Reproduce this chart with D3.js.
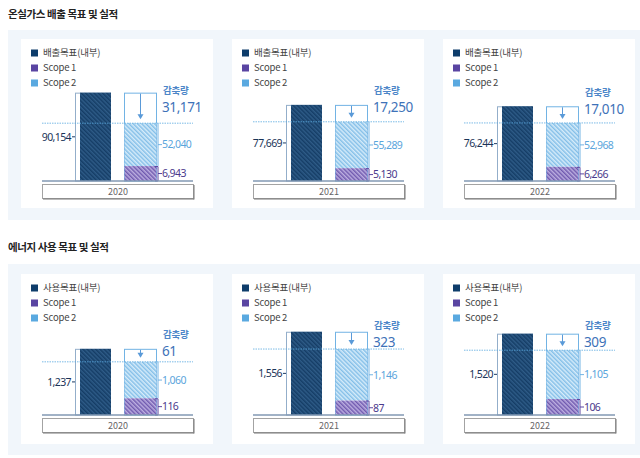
<!DOCTYPE html>
<html><head><meta charset="utf-8">
<script src="https://cdn.jsdelivr.net/npm/d3@7"></script>
<style>
html,body{margin:0;padding:0;background:#fff;}
svg{display:block;font-family:"Noto Sans CJK KR","Noto Sans",sans-serif;}
</style></head>
<body>
<svg id="chart" width="640" height="458"></svg>
<script>
// ---- data ----
const years = ["2020", "2021", "2022"];
const ghgTitle = "온실가스 배출 목표 및 실적";
const ghgTargetLabel = "배출목표(내부)";
const ghgTarget = [90154, 77669, 76244];
const ghgScope2 = [52040, 55289, 52968];
const ghgScope1 = [6943, 5130, 6266];
const ghgReduction = [31171, 17250, 17010];

const energyTitle = "에너지 사용 목표 및 실적";
const energyTargetLabel = "사용목표(내부)";
const energyTarget = [1237, 1556, 1520];
const energyScope2 = [1060, 1146, 1105];
const energyScope1 = [116, 87, 106];
const energyReduction = [61, 323, 309];

const legendScopes = ["Scope 1", "Scope 2"];
const reductionLabel = "감축량";

// ---- layout ----
const svg = d3.select("#chart");
const fmt = d3.format(",");
const panelLefts = [21, 232, 443];
const panelW = 192;

const defs = svg.append("defs");
function hatch(id, bg, fg) {
  const p = defs.append("pattern").attr("id", id).attr("width", 3).attr("height", 3)
    .attr("patternUnits", "userSpaceOnUse").attr("patternTransform", "rotate(-45)");
  p.append("rect").attr("width", 3).attr("height", 3).attr("fill", bg);
  p.append("line").attr("x1", 0.75).attr("y1", 0).attr("x2", 0.75).attr("y2", 3)
    .attr("stroke", fg).attr("stroke-width", 1.4);
}
hatch("pTarget", "#2e5b87", "#133b64");
hatch("pScope2", "#d6ecfa", "#80bde8");
hatch("pScope1", "#bcaee0", "#6c56ad");

const colTarget = "#0e3d6b", colS1 = "#5a45a2", colS2 = "#5aa9e0";
const numFont = "'Noto Sans','Noto Sans CJK KR',sans-serif";

const groups = [
  { title: ghgTitle, targetLabel: ghgTargetLabel, target: ghgTarget, s2: ghgScope2, s1: ghgScope1, red: ghgReduction,
    titleY: 18, bgY: 30, bgH: 190, panelTop: 39, panelH: 169, base: 181,
    y: d3.scaleLinear().domain([0, 100000]).range([0, 98]),
    s1h: d3.scaleSqrt().domain([0, 7000]).range([0, 15]) },
  { title: energyTitle, targetLabel: energyTargetLabel, target: energyTarget, s2: energyScope2, s1: energyScope1, red: energyReduction,
    titleY: 251, bgY: 264, bgH: 191, panelTop: 274, panelH: 170, base: 415,
    y: d3.scaleLinear().domain([0, 2000]).range([0, 107]),
    s1h: d3.scaleSqrt().domain([0, 120]).range([0, 17]) }
];
const minGap = 13;

groups.forEach(G => {
  svg.append("text").attr("x", 8).attr("y", G.titleY).text(G.title)
    .attr("font-size", 10.5).attr("font-weight", 700).attr("fill", "#222").attr("letter-spacing", -0.4);
  svg.append("rect").attr("x", 8).attr("y", G.bgY).attr("width", 640).attr("height", G.bgH).attr("fill", "#f1f6fb");

  years.forEach((yr, i) => {
    const px = panelLefts[i];
    const g = svg.append("g");
    g.append("rect").attr("x", px).attr("y", G.panelTop).attr("width", panelW).attr("height", G.panelH).attr("fill", "#fff");

    // legend
    const leg = [{c: colTarget, t: G.targetLabel}, {c: colS1, t: legendScopes[0]}, {c: colS2, t: legendScopes[1]}];
    leg.forEach((d, k) => {
      const cy = G.panelTop + 14 + k * 15;
      g.append("rect").attr("x", px + 10).attr("y", cy - 3.5).attr("width", 7).attr("height", 7).attr("fill", d.c);
      g.append("text").attr("x", px + 22).attr("y", cy + 3.4).text(d.t)
        .attr("font-size", 9.5).attr("fill", "#444").attr("letter-spacing", -0.2);
    });

    const y0 = G.base;
    const Y = v => y0 - G.y(v);
    const tgt = G.target[i], s2 = G.s2[i], s1 = G.s1[i];
    const yT = Y(tgt);
    const yA = yT + Math.max(G.y(G.red[i]), minGap);
    const h1 = G.s1h(s1), yS1 = y0 - h1;

    // target bar
    g.append("rect").attr("x", px + 54.5).attr("y", yT + 0.5).attr("width", 35).attr("height", y0 - yT - 0.5)
      .attr("fill", "#fff").attr("stroke", "#93aeca").attr("stroke-width", 1);
    g.append("rect").attr("x", px + 59).attr("y", yT).attr("width", 31).attr("height", y0 - yT).attr("fill", "url(#pTarget)");
    const yMidT = (yT + y0) / 2;
    g.append("line").attr("x1", px + 51).attr("x2", px + 54).attr("y1", yMidT).attr("y2", yMidT).attr("stroke", "#1b3a63");
    g.append("text").attr("x", px + 50).attr("y", yMidT + 3.8).attr("text-anchor", "end").text(fmt(tgt))
      .attr("font-family", numFont).attr("font-size", 10.5).attr("fill", "#1b3458").attr("letter-spacing", -0.6);

    // actual box
    g.append("rect").attr("x", px + 103.5).attr("y", yT + 0.5).attr("width", 32).attr("height", y0 - yT - 0.5)
      .attr("fill", "#fff").attr("stroke", "#72b3e4").attr("stroke-width", 1);
    g.append("rect").attr("x", px + 103.5).attr("y", yA).attr("width", 32).attr("height", yS1 - yA).attr("fill", "url(#pScope2)");
    g.append("rect").attr("x", px + 103.5).attr("y", yS1).attr("width", 32).attr("height", h1).attr("fill", "url(#pScope1)");

    // arrow
    const ax = px + 119.5;
    g.append("line").attr("x1", ax).attr("x2", ax).attr("y1", yT + 1).attr("y2", yA - 8).attr("stroke", "#5a9ad8").attr("stroke-width", 1);
    g.append("path").attr("d", `M${ax - 3},${yA - 9}L${ax + 3},${yA - 9}L${ax},${yA - 4}Z`).attr("fill", "#5a9ad8");

    // dashed target line
    g.append("line").attr("x1", px + 21).attr("x2", px + 172).attr("y1", yA).attr("y2", yA)
      .attr("stroke", "#5aa9e0").attr("stroke-width", 0.8).attr("stroke-dasharray", "1.5,1");

    // brackets
    g.append("line").attr("x1", px + 137).attr("x2", px + 137).attr("y1", yA).attr("y2", yS1).attr("stroke", "#72b3e4");
    const yM2 = (yA + yS1) / 2;
    g.append("line").attr("x1", px + 137).attr("x2", px + 141).attr("y1", yM2).attr("y2", yM2).attr("stroke", "#72b3e4");
    g.append("text").attr("x", px + 141).attr("y", yM2 + 3.8).text(fmt(s2))
      .attr("font-family", numFont).attr("font-size", 10.5).attr("fill", "#5aa5dc").attr("letter-spacing", -0.6);
    g.append("path").attr("d", `M${px + 134},${yS1 + 0.5}H${px + 137}V${y0}H${px + 134}`).attr("fill", "none").attr("stroke", "#5a45a2");
    const yM1 = (yS1 + y0) / 2;
    g.append("line").attr("x1", px + 137).attr("x2", px + 141).attr("y1", yM1).attr("y2", yM1).attr("stroke", "#5a45a2");
    g.append("text").attr("x", px + 141).attr("y", yM1 + 3.8).text(fmt(s1))
      .attr("font-family", numFont).attr("font-size", 10.5).attr("fill", "#4a3a8c").attr("letter-spacing", -0.6);

    // reduction label
    const ly = Math.max(G.panelTop + 52, yT - 13);
    g.append("text").attr("x", px + 142).attr("y", ly + 2.5).text(reductionLabel)
      .attr("font-size", 9.5).attr("font-weight", 700).attr("fill", "#4d86c8").attr("letter-spacing", -0.3);
    g.append("text").attr("x", px + 141).attr("y", ly + 20.5).text(fmt(G.red[i]))
      .attr("font-family", numFont).attr("font-size", 13.5).attr("fill", "#3e72b8").attr("letter-spacing", -0.4);

    // baseline
    g.append("line").attr("x1", px + 21).attr("x2", px + 172).attr("y1", y0).attr("y2", y0)
      .attr("stroke", "#8299b3").attr("stroke-width", 1.5);

    // year box
    g.append("rect").attr("x", px + 21.5).attr("y", y0 + 3.5).attr("width", 151).attr("height", 14)
      .attr("fill", "#fff").attr("stroke", "#a3a3a3");
    g.append("line").attr("x1", px + 22).attr("x2", px + 173).attr("y1", y0 + 18).attr("y2", y0 + 18).attr("stroke", "#777");
    g.append("line").attr("x1", px + 173).attr("x2", px + 173).attr("y1", y0 + 4).attr("y2", y0 + 18.5).attr("stroke", "#777");
    g.append("text").attr("x", px + 97).attr("y", y0 + 14).attr("text-anchor", "middle").text(yr)
      .attr("font-size", 9).attr("fill", "#666");
  });
});
</script>
</body></html>
